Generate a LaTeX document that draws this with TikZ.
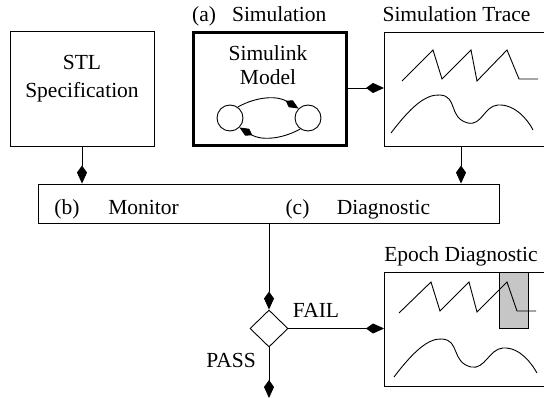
\documentclass[tikz,border=0pt]{standalone}
\usepackage{fontspec}
\setmainfont{Liberation Serif}
\usetikzlibrary{arrows.meta,shapes.geometric}
\tikzset{
  box/.style={draw, line width=0.9pt, rectangle, inner sep=0pt},
  txt/.style={anchor=base, inner sep=0pt, font=\fontsize{21.5}{25}\selectfont},
  arr/.style={line width=0.9pt, -{Kite[length=18pt,width=10pt,inset=7pt]}},
  sarr/.style={line width=0.9pt, -{Kite[length=15pt,width=8pt,inset=6pt]}},
  curve/.style={line width=0.9pt},
}
\begin{document}
\begin{tikzpicture}[x=1pt,y=-1pt]
\useasboundingbox (0,0) rectangle (544,398);
\clip (0,0) rectangle (544,398);
% boxes
\node[box, minimum width=144pt, minimum height=115pt] (stl) at (82,88.5) {};
\node[box, line width=3.3pt, minimum width=152.7pt, minimum height=112.7pt] (sim) at (270,89) {};
\node[box, minimum width=200pt, minimum height=114pt, anchor=north west] (trace) at (384,32) {};
\node[box, minimum width=461pt, minimum height=39pt] (mon) at (268.5,203.5) {};
\node[box, minimum width=200pt, minimum height=114pt, anchor=north west] (epoch) at (384,272) {};
\node[draw, line width=0.9pt, diamond, minimum width=38pt, minimum height=37pt, inner sep=0pt] (dec) at (269,328.5) {};
% labels
\node[txt, anchor=base west] (la) at (192,22) {(a)\hspace{16pt}Simulation};
\node[txt] (lt) at (456.5,22) {Simulation Trace};
\node[txt] (le) at (461,262) {Epoch Diagnostic};
\node[txt] (s1) at (82,70) {STL};
\node[txt] (s2) at (82,98) {Specification};
\node[txt] (m1) at (268,61) {Simulink};
\node[txt] (m2) at (268,85) {Model};
\node[txt] (lb) at (67,215) {(b)};
\node[txt] (lm) at (143.5,215) {Monitor};
\node[txt] (lc) at (297.5,215) {(c)};
\node[txt] (ld) at (383.5,215) {Diagnostic};
\node[txt] (fail) at (316,318) {FAIL};
\node[txt] (pass) at (231,367) {PASS};
% simulink model
\node[draw, line width=0.9pt, circle, minimum size=26pt, inner sep=0pt] (c1) at (230,118) {};
\node[draw, line width=0.9pt, circle, minimum size=26pt, inner sep=0pt] (c2) at (308,118) {};
\draw[sarr] (c1.55) to[bend left=30] (c2.135);
\draw[sarr] (c2.-125) to[bend left=30] (c1.-45);
% connectors
\coordinate (pend) at (269,398);
\draw[arr] (sim.east |- 0,88) -- (trace.west |- 0,88);
\draw[arr] (stl.south) -- (stl.south |- mon.north);
\draw[arr] (trace.south -| 461,0) -- (mon.north -| 461,0);
\draw[arr] (mon.south -| dec.north) -- (dec.north);
\draw[arr] (dec.east) -- (epoch.west |- dec.east);
\draw[arr] (dec.south) -- (pend);
% trace plots
\draw[curve] (402,81) -- (433,50) -- (442,79) -- (471,50) -- (477,81) -- (507,50) -- (519,79) -- (538,79);
\draw[curve] (391,133) .. controls (410,108) and (425,94) .. (440,95)
  .. controls (458,96) and (448,118) .. (468,123)
  .. controls (482,126) and (484,106) .. (498,105)
  .. controls (515,104) and (528,120) .. (533,130);
% epoch plots
\fill[gray!45] (499,272) rectangle (528,328);
\draw[line width=0.9pt] (499,272) rectangle (528,328);
\draw[curve] (399,313) -- (431,282) -- (440,311) -- (469,282) -- (477,312) -- (507,282) -- (517,311) -- (536,311);
\draw[curve] (394,377) .. controls (413,352) and (428,338) .. (442,339)
  .. controls (460,340) and (451,362) .. (471,367)
  .. controls (485,370) and (489,349) .. (503,348)
  .. controls (520,347) and (532,364) .. (537,373);
\end{tikzpicture}
\end{document}
